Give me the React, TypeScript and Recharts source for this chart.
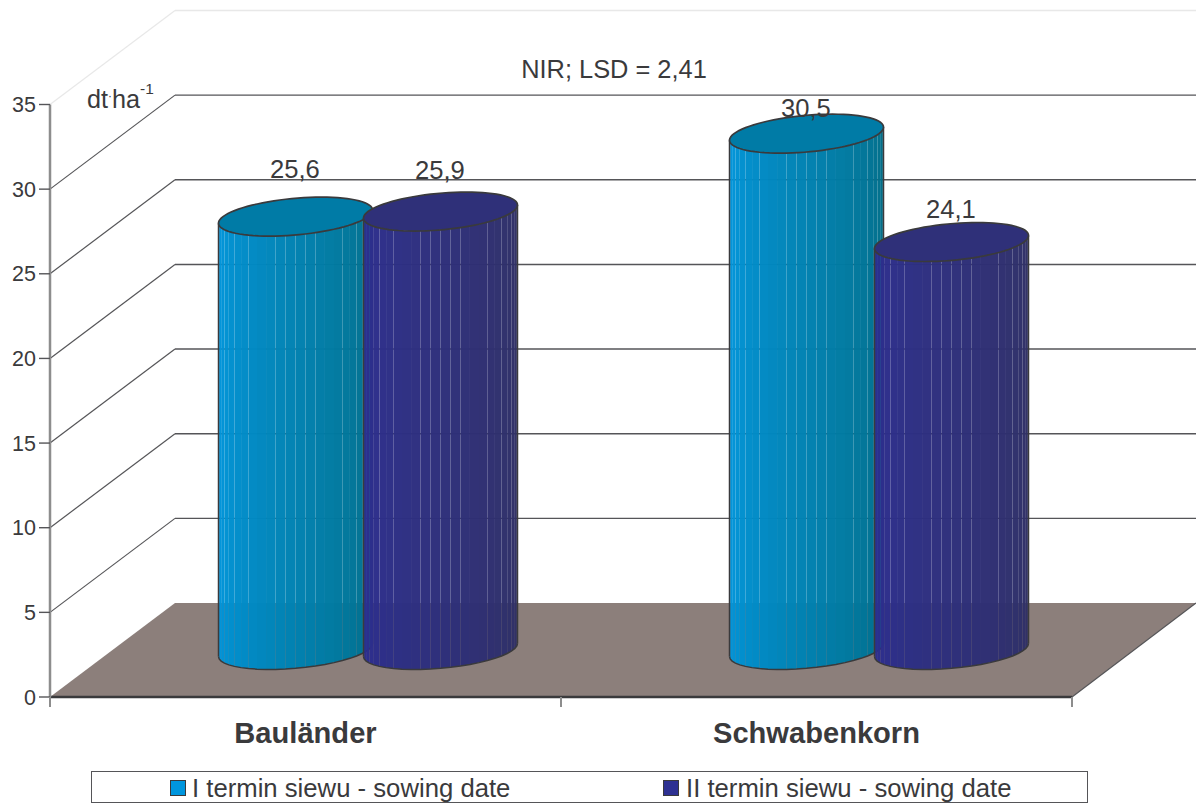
import React from "react"
import { BarChart, Bar, XAxis, YAxis, CartesianGrid, Legend, LabelList } from "recharts"

const categories = ["Bauländer", "Schwabenkorn"]
const firstDate = [25.6, 30.5]
const secondDate = [25.9, 24.1]
const yTicks = [0, 5, 10, 15, 20, 25, 30, 35]
const seriesNames = ["I termin siewu - sowing date", "II termin siewu - sowing date"]

const chartData = categories.map((name, i) => ({
    name,
    first: firstDate[i],
    second: secondDate[i],
}))

const FONT = '"Liberation Sans", Arial, sans-serif'
const INK = "#3a3a3c"
const LINE = "#555558"
const AXIS_GREY = "#8d8d8d"

// oblique projection of the chart box
const DEPTH_X = 125
const DEPTH_Y = 94
const PLOT_LEFT = 50
const PLOT_TOP = 104.5
const PLOT_BOTTOM = 697
const PLOT_W = 1022
const FACETS = 24

const lerp = (a: number, b: number, t: number) => Math.round(a + (b - a) * t)
const mix = (c1: number[], c2: number[], t: number) =>
    `rgb(${lerp(c1[0], c2[0], t)},${lerp(c1[1], c2[1], t)},${lerp(c1[2], c2[2], t)})`

const makeCylinder = (light: number[], dark: number[], topFill: string) => (props: any) => {
    const { x, y, width, height } = props
    const cx = x + width / 2 + DEPTH_X / 2
    const topY = y - DEPTH_Y / 2
    const baseY = y + height - DEPTH_Y / 2
    const B = 19.5
    const K = (B * DEPTH_X) / DEPTH_Y
    const A = Math.sqrt((width / 2) * (width / 2) - K * K)
    const px = (t: number) => cx + A * Math.cos(t) + K * Math.sin(t)
    const py = (t: number, level: number) => level - B * Math.sin(t)
    const start = Math.atan2(K, A) + Math.PI

    const facets = []
    let bottomArc = ""
    for (let i = 0; i < FACETS; i++) {
        const t1 = start + (Math.PI * i) / FACETS
        const t2 = start + (Math.PI * (i + 1)) / FACETS
        const pts = [
            [px(t1), py(t1, topY)],
            [px(t2), py(t2, topY)],
            [px(t2), py(t2, baseY)],
            [px(t1), py(t1, baseY)],
        ]
        facets.push(
            <polygon
                key={i}
                points={pts.map((p) => p.join(",")).join(" ")}
                fill={mix(light, dark, i / (FACETS - 1))}
                fillOpacity={0.985}
            />
        )
        bottomArc += `${i === 0 ? "M" : "L"}${px(t1)} ${py(t1, baseY)} `
    }
    const end = start + Math.PI
    bottomArc += `L${px(end)} ${py(end, baseY)}`

    let rim = ""
    for (let i = 0; i <= 80; i++) {
        const t = (i / 80) * Math.PI * 2
        rim += `${i === 0 ? "M" : "L"}${px(t)} ${py(t, topY)} `
    }

    return (
        <g>
            {facets}
            <path d={bottomArc} fill="none" stroke={INK} strokeWidth={1.5} />
            <line x1={px(start)} y1={py(start, topY)} x2={px(start)} y2={py(start, baseY)} stroke={INK} strokeWidth={1.5} />
            <line x1={px(end)} y1={py(end, topY)} x2={px(end)} y2={py(end, baseY)} stroke={INK} strokeWidth={1.5} />
            <path d={rim + "Z"} fill={topFill} stroke={INK} strokeWidth={1.7} />
        </g>
    )
}

const FirstCylinder = makeCylinder([0, 150, 222], [0, 108, 132], "#007ba6")
const SecondCylinder = makeCylinder([44, 46, 146], [48, 48, 100], "#2f3079")

// walls and floor hang off each value tick
const wallLine = (props: any) => {
    const { y1, key } = props
    const backY = y1 - DEPTH_Y
    const backL = PLOT_LEFT + DEPTH_X
    const isFloor = Math.abs(y1 - PLOT_BOTTOM) < 1
    const isTop = Math.abs(y1 - PLOT_TOP) < 1
    if (isFloor) {
        const frontR = PLOT_LEFT + PLOT_W
        return (
            <g key={key}>
                <polygon
                    points={`${PLOT_LEFT},${y1} ${backL},${backY} 1196,${backY} ${frontR},${y1}`}
                    fill="#8c7f7b"
                />
                <line x1={frontR} y1={y1} x2={1196} y2={backY} stroke={LINE} strokeWidth={1.2} />
                <line x1={PLOT_LEFT} y1={y1} x2={frontR} y2={y1} stroke={INK} strokeWidth={2} />
            </g>
        )
    }
    const stroke = isTop ? "#e8e8e8" : LINE
    return (
        <g key={key}>
            <line x1={PLOT_LEFT} y1={y1} x2={backL} y2={backY} stroke={stroke} strokeWidth={1.2} />
            <line x1={backL} y1={backY} x2={1196} y2={backY} stroke={stroke} strokeWidth={1.4} />
        </g>
    )
}

const CategoryTick = (props: any) => {
    const { x, y, payload } = props
    const half = PLOT_W / categories.length / 2
    return (
        <g>
            <line x1={x - half} y1={y} x2={x - half} y2={y + 10} stroke={AXIS_GREY} strokeWidth={2} />
            <line x1={x + half} y1={y} x2={x + half} y2={y + 10} stroke={AXIS_GREY} strokeWidth={2} />
            <text x={x} y={y + 46} textAnchor="middle" fontFamily={FONT} fontSize={29.1} fontWeight="bold" fill={INK}>
                {payload.value}
            </text>
        </g>
    )
}

// value labels sit at hand-placed heights above each cylinder
const firstRaise = [85.6, 63.6]
const secondRaise = [79.5, 71]

const valueLabel = (raise: number[]) => (props: any) => {
    const { x, y, width, value, index } = props
    return (
        <text
            x={x + width / 2 + DEPTH_X / 2 - 0.6}
            y={y - raise[index]}
            textAnchor="middle"
            fontFamily={FONT}
            fontSize={25.6}
            fill={INK}
        >
            {String(value).replace(".", ",")}
        </text>
    )
}

const LegendBox = () => (
    <div
        style={{
            position: "relative",
            width: 995,
            height: 30,
            border: `1.5px solid ${LINE}`,
            background: "#fff",
            fontFamily: FONT,
            fontSize: 25.7,
            color: INK,
            lineHeight: "32px",
            whiteSpace: "nowrap",
        }}
    >
        {seriesNames.map((name, i) => (
            <React.Fragment key={name}>
                <div
                    style={{
                        position: "absolute",
                        left: i === 0 ? 78 : 571,
                        top: 8,
                        width: 14,
                        height: 14,
                        border: `1.5px solid ${INK}`,
                        background: i === 0 ? "#0096de" : "#2e3192",
                    }}
                />
                <span style={{ position: "absolute", left: i === 0 ? 100 : 594, top: 0 }}>{name}</span>
            </React.Fragment>
        ))}
    </div>
)

export default function App() {
    return (
        <div style={{ position: "absolute", left: 0, top: 0, width: 1196, height: 805, background: "#fff" }}>
            <BarChart
                width={1196}
                height={805}
                data={chartData}
                margin={{ top: PLOT_TOP, right: 124, bottom: 0, left: 0 }}
                barSize={154}
                barGap={-9}
            >
                <CartesianGrid horizontal={wallLine} vertical={false} />
                <XAxis
                    dataKey="name"
                    height={108}
                    axisLine={{ stroke: INK, strokeWidth: 2.5 }}
                    tickLine={false}
                    tickSize={0}
                    tickMargin={0}
                    tick={CategoryTick}
                    interval={0}
                />
                <YAxis
                    type="number"
                    domain={[0, 35]}
                    ticks={yTicks}
                    width={50}
                    interval={0}
                    tickSize={11}
                    tickMargin={3}
                    axisLine={{ stroke: AXIS_GREY, strokeWidth: 2.5 }}
                    tickLine={{ stroke: LINE, strokeWidth: 1.4 }}
                    tick={{ fill: INK, fontSize: 21.5, fontFamily: FONT }}
                />
                <Bar dataKey="first" name={seriesNames[0]} fill="#0096de" shape={FirstCylinder} isAnimationActive={false}>
                    <LabelList dataKey="first" content={valueLabel(firstRaise)} />
                </Bar>
                <Bar dataKey="second" name={seriesNames[1]} fill="#2e3192" shape={SecondCylinder} isAnimationActive={false}>
                    <LabelList dataKey="second" content={valueLabel(secondRaise)} />
                </Bar>
                <Legend
                    layout="vertical"
                    align="center"
                    verticalAlign="middle"
                    content={LegendBox}
                    wrapperStyle={{ left: 91, top: 771, width: 998, height: 33 }}
                />
                <text x={614} y={78} textAnchor="middle" fontFamily={FONT} fontSize={25.4} fill={INK}>
                    NIR; LSD = 2,41
                </text>
                <text x={87} y={108} fontFamily={FONT} fontSize={25.2} fill={INK}>
                    dt
                    <tspan dy={-8} fontSize={12}>·</tspan>
                    <tspan dy={8}>ha</tspan>
                    <tspan dy={-14} fontSize={15.5}>-1</tspan>
                </text>
            </BarChart>
        </div>
    )
}
